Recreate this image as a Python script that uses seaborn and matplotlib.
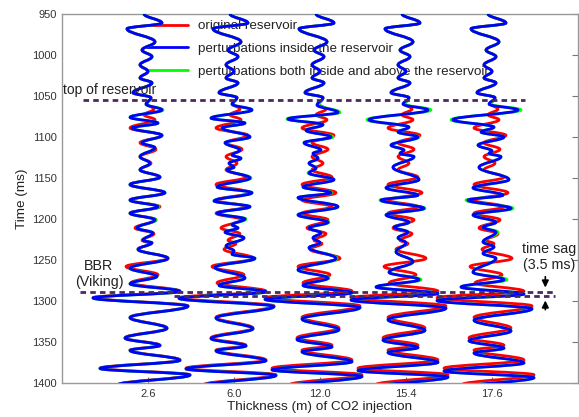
import matplotlib
matplotlib.use("Agg")
import numpy as np
import pandas as pd
import seaborn as sns
import matplotlib.pyplot as plt
from matplotlib.path import Path
from matplotlib.patches import PathPatch
from matplotlib.lines import Line2D

# ---------------- data ----------------
thickness_labels = ["2.6", "6.0", "12.0", "15.4", "17.6"]
legend_labels = ["original reservoir",
                 "perturbations inside the reservoir",
                 "perturbations both inside and above the reservoir"]

# wiggle extrema: time (ms) and amplitude (arbitrary amplitude units)
# part above the reservoir (identical for every trace / every series)
upper_t = [950, 961, 968, 984, 994, 1002, 1012, 1020, 1028, 1034, 1046, 1052]
upper_a = [-4, 14, -21, 7, -6, 4, -8, 0, -8, 4, -15, 3]

# original reservoir response inside the reservoir (red)
red_res_t = [1060, 1066, 1073, 1079, 1089, 1098, 1107, 1115, 1124, 1132, 1140, 1149, 1158,
             1168, 1177, 1185, 1193, 1201, 1211, 1218, 1226, 1230, 1237, 1248, 1258, 1268, 1278]
red_res_a = [-1, 6, -4, 7, -18, 14, -8, 8, -8, 3, -8, 12, -18,
             16, -18, 12, -18, 8, -13, 6, -6, 2, -10, 20, -22, 10, -17]

# perturbed responses inside the reservoir (blue), one per thickness
blue1_t = [1060, 1067, 1076, 1083, 1089, 1098, 1107, 1113, 1124, 1132, 1140, 1149, 1158, 1168,
           1177, 1185, 1193, 1201, 1211, 1217, 1226, 1229, 1237, 1248, 1260, 1270, 1279]
blue1_a = [-2, 14, -18, 10, -16, 14, -6, 7, -8, 2, -8, 12, -18, 17,
           -18, 10, -18, 7, -11, 5, -5, 4, -10, 20, -18, 9, -18]
blue2_t = [1060, 1067, 1077, 1083, 1089, 1100, 1107, 1116, 1122, 1126, 1132, 1137, 1140, 1150,
           1161, 1168, 1178, 1185, 1193, 1200, 1207, 1211, 1216, 1223, 1233, 1239, 1243, 1248,
           1259, 1272, 1281]
blue2_a = [-2, 18, -23, 11, -12, 16, -9, 6, -2, 7, -5, 0, -7, 16,
           -17, 18, -20, 16, -17, 11, -2, 4, -9, 10, -8, 0, -2, 21,
           -19, 11, -15]
blue3_t = [1061, 1070, 1078, 1085, 1092, 1100, 1107, 1116, 1120, 1126, 1132, 1138, 1144, 1152,
           1161, 1168, 1174, 1185, 1195, 1204, 1211, 1217, 1223, 1229, 1235, 1248, 1262, 1272, 1281]
blue3_a = [-3, 18, -32, 3, -14, 11, -16, 1, -7, -2, -11, -4, -11, 14,
           -17, 11, -22, 18, -22, 8, -11, 1, -7, 0, -11, 16, -22, 8, -17]
blue4_t = [1060, 1067, 1079, 1088, 1094, 1100, 1110, 1116, 1120, 1124, 1137, 1152, 1162, 1171,
           1177, 1187, 1195, 1204, 1210, 1216, 1223, 1229, 1240, 1252, 1265, 1274, 1283]
blue4_a = [-3, 22, -37, 3, -8, 12, -15, -2, -6, 8, -13, 13, -20, 12,
           -25, 18, -20, 3, -12, 2, -8, 0, -10, 7, -17, 13, -30]
blue5_t = [1060, 1067, 1079, 1088, 1094, 1100, 1110, 1117, 1120, 1124, 1137, 1152, 1162, 1171,
           1177, 1187, 1195, 1204, 1210, 1216, 1228, 1234, 1242, 1248, 1265, 1274, 1283]
blue5_a = [-3, 26, -39, 2, -11, 12, -14, 0, -3, 9, -13, 17, -19, 11,
           -24, 19, -19, 4, -9, 4, -9, 2, -9, 4, -19, 12, -31]

# perturbations inside and above the reservoir (green), same extremum times as blue
green1_a = [-2, 15, -18, 10, -16, 14, -6, 7, -8, 2, -8, 12, -18, 17,
            -18, 11, -18, 8, -11, 5, -5, 4, -10, 20, -18, 9, -18]
green2_a = [-2, 18, -23, 11, -12, 16, -9, 6, -2, 7, -5, 0, -7, 17,
            -17, 18, -20, 16, -17, 12, -2, 4, -9, 10, -8, 0, -2, 21,
            -19, 11, -15]
green3_a = [-1, 20, -33, 3, -14, 13, -16, 1, -7, -2, -11, -4, -12, 14,
            -17, 12, -22, 18, -22, 9, -11, 1, -7, 0, -11, 17, -22, 9, -17]
green4_a = [-1, 25, -39, 3, -8, 13, -15, -2, -6, 8, -13, 13, -20, 12,
            -26, 19, -20, 3, -12, 2, -8, 0, -10, 7, -17, 15, -30]
green5_a = [-1, 29, -41, 2, -11, 12, -14, 0, -3, 9, -13, 17, -19, 11,
            -26, 21, -19, 4, -9, 6, -9, 2, -9, 4, -19, 15, -31]

# part below the base of the reservoir (BBR)
lower_t = [1288, 1296, 1306, 1320, 1333, 1345, 1354, 1360, 1372, 1382, 1390, 1402, 1411]
lower_a = [32, -55, 40, -18, 19, -23, 12, -18, 32, -48, 42, -30, 20]
# time delay (ms) of perturbed traces below the reservoir, per thickness
sag_ms = [0.3, 0.8, 2.0, 2.8, 3.5]

top_reservoir_ms = 1055
bbr_ms = 1288.5
bbr_sag_ms = 1294.5

blue_t = [blue1_t, blue2_t, blue3_t, blue4_t, blue5_t]
blue_a = [blue1_a, blue2_a, blue3_a, blue4_a, blue5_a]
green_a = [green1_a, green2_a, green3_a, green4_a, green5_a]

# ---------------- style ----------------
sns.set_style("white")
plt.rcParams["font.family"] = ["Liberation Sans", "DejaVu Sans"]

RED, BLUE, GREEN = "#ff0000", "#0000ff", "#00ff00"
HORIZON = "#4a2a5c"
GAIN = 1 / 86.0  # amplitude units -> trace spacing
LW = 2.0

fig = plt.figure(figsize=(5.79, 4.17), dpi=100)
ax = fig.add_axes([62 / 579, 34 / 417, 516 / 579, 369 / 417])


def wiggle(ax, pos, t, a, color, z, k=0.38):
    verts = [(pos + a[0] * GAIN, t[0])]
    codes = [Path.MOVETO]
    for i in range(1, len(t)):
        dt = t[i] - t[i - 1]
        x0 = pos + a[i - 1] * GAIN
        x1 = pos + a[i] * GAIN
        verts += [(x0, t[i - 1] + k * dt), (x1, t[i] - k * dt), (x1, t[i])]
        codes += [Path.CURVE4] * 3
    patch = PathPatch(Path(verts, codes), fill=False, edgecolor=color, lw=LW,
                      joinstyle="round", capstyle="round", zorder=z)
    ax.add_patch(patch)


for i in range(5):
    pos = i + 1
    shifted = [tt + sag_ms[i] for tt in lower_t]
    wiggle(ax, pos, upper_t + red_res_t + lower_t, upper_a + red_res_a + lower_a, RED, 2)
    wiggle(ax, pos, upper_t + blue_t[i] + shifted, upper_a + green_a[i] + lower_a, GREEN, 3)
    wiggle(ax, pos, upper_t + blue_t[i] + shifted, upper_a + blue_a[i] + lower_a, BLUE, 4)

# horizons (dashed)
dash = (0, (2.0, 1.5))
hz = pd.DataFrame({"x": [0.24, 5.38], "t": [top_reservoir_ms] * 2})
sns.lineplot(data=hz, x="x", y="t", ax=ax, color=HORIZON, lw=2.0, linestyle=dash, zorder=6)
hz2 = pd.DataFrame({"x": [0.21, 5.73], "t": [bbr_ms] * 2})
sns.lineplot(data=hz2, x="x", y="t", ax=ax, color=HORIZON, lw=2.0, linestyle=dash, zorder=6)
hz3 = pd.DataFrame({"x": [1.3, 5.73], "t": [bbr_sag_ms] * 2})
sns.lineplot(data=hz3, x="x", y="t", ax=ax, color=HORIZON, lw=2.0, linestyle=dash, zorder=6)

# time-sag arrows
ax.annotate("", xy=(5.62, bbr_ms - 1.5), xytext=(5.62, 1267),
            arrowprops=dict(arrowstyle="-|>", color="black", lw=1.2, mutation_scale=10),
            zorder=7)
ax.annotate("", xy=(5.62, bbr_sag_ms + 1.5), xytext=(5.62, 1314),
            arrowprops=dict(arrowstyle="-|>", color="black", lw=1.2, mutation_scale=10),
            zorder=7)

# annotations
txt = "#222222"
ax.text(0.01, 1047.5, "top of reservoir", fontsize=10, color=txt, ha="left", va="baseline", zorder=8)
ax.text(0.43, 1267, "BBR\n(Viking)", fontsize=10.3, color=txt, ha="center", va="center",
        linespacing=1.25, zorder=8)
ax.text(5.66, 1246, "time sag\n(3.5 ms)", fontsize=10.3, color=txt, ha="center", va="center",
        linespacing=1.2, zorder=8)

# axes
ax.set_xlim(0, 6)
ax.set_ylim(1400, 950)
ax.set_xticks(range(1, 6))
ax.set_xticklabels(thickness_labels)
ax.set_yticks(np.arange(950, 1401, 50))
ax.tick_params(axis="both", direction="in", length=4, width=0.8, labelsize=8,
               labelcolor="#333333", color="#777777", right=True, top=False, bottom=True)
ax.tick_params(axis="x", pad=4)
for s in ax.spines.values():
    s.set_color("#999999")
    s.set_linewidth(1.0)
ax.set_xlabel("Thickness (m) of CO2 injection", fontsize=9.7, color=txt, labelpad=2)
ax.set_ylabel("Time (ms)", fontsize=9.7, color=txt, labelpad=3)

handles = [Line2D([], [], color=c, lw=LW) for c in (RED, BLUE, GREEN)]
leg = ax.legend(handles, legend_labels, loc="upper left", bbox_to_anchor=(0.152, 0.998),
                frameon=False, fontsize=9.6, handlelength=3.2, handletextpad=0.75,
                labelspacing=0.78, borderaxespad=0.0)
for t in leg.get_texts():
    t.set_color(txt)
leg.set_zorder(1)

fig.savefig("out.png", dpi=100)
